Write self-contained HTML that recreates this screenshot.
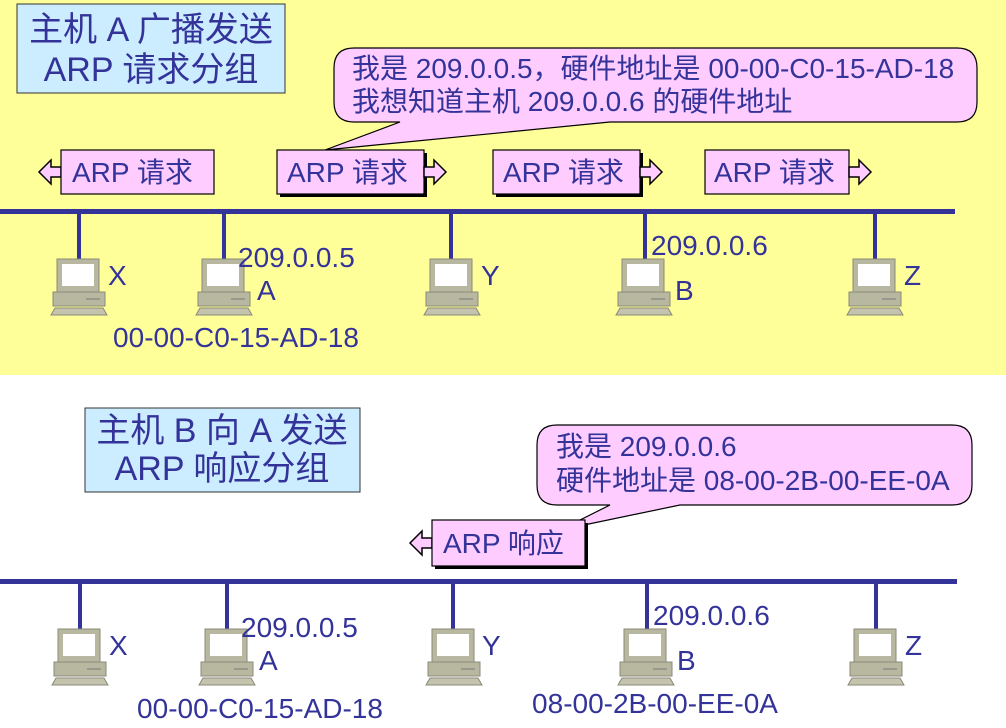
<!DOCTYPE html>
<html><head><meta charset="utf-8"><style>
html,body{margin:0;padding:0;background:#fff}
svg{display:block}
text{font-family:"Liberation Sans","Noto Sans CJK SC",sans-serif;fill:#333399}
</style></head><body>
<svg width="1006" height="728" viewBox="0 0 1006 728" xmlns="http://www.w3.org/2000/svg">
<defs>
<g id="pc">
<rect x="4" y="0" width="42" height="33" fill="#b8b8a0" stroke="#8a8a78" stroke-width="1"/>
<rect x="9" y="5" width="32" height="22" fill="#ffffff"/>
<rect x="0" y="33" width="52" height="14" fill="#b8b8a0" stroke="#8a8a78" stroke-width="1"/>
<line x1="33" y1="40" x2="47" y2="40" stroke="#777" stroke-width="1"/>
<polygon points="2,49 50,49 54,56 -2,56" fill="#c4c4ae" stroke="#8a8a78" stroke-width="1"/>
</g>
<g id="ra"><polygon points="0,-5 10,-5 10,-12 22,0 10,12 10,5 0,5" fill="#ffccff" stroke="#000" stroke-width="1.5"/></g>
<g id="la"><polygon points="0,-5 -10,-5 -10,-12 -22,0 -10,12 -10,5 0,5" fill="#ffccff" stroke="#000" stroke-width="1.5"/></g>
</defs>
<rect x="0" y="0" width="1006" height="375" fill="#ffff99"/>

<!-- top -->
<rect x="17" y="4" width="268" height="89" fill="#ccecff" stroke="#333" stroke-width="1"/>
<text x="151" y="41" font-size="34" text-anchor="middle">主机 A 广播发送</text>
<text x="151" y="81" font-size="34" text-anchor="middle">ARP 请求分组</text>

<path d="M354,48 H957 Q977,48 977,68 V102 Q977,122 957,122 H610 L325,150 L400,122 H354 Q334,122 334,102 V68 Q334,48 354,48 Z" fill="#ffccff" stroke="#000" stroke-width="1.2"/>
<text x="352" y="78" font-size="28">我是 209.0.0.5，硬件地址是 00-00-C0-15-AD-18</text>
<text x="352" y="111" font-size="28">我想知道主机 209.0.0.6 的硬件地址</text>

<use href="#la" x="61" y="172"/>
<rect x="61" y="150" width="153" height="44" fill="#ffccff" stroke="#000" stroke-width="1.2"/>
<text x="72" y="182" font-size="28">ARP 请求</text>

<rect x="280" y="153" width="147" height="44" fill="#000"/>
<rect x="277" y="150" width="147" height="44" fill="#ffccff" stroke="#000" stroke-width="1.2"/>
<text x="287" y="182" font-size="28">ARP 请求</text>
<use href="#ra" x="424" y="172"/>

<rect x="496" y="153" width="147" height="44" fill="#000"/>
<rect x="493" y="150" width="147" height="44" fill="#ffccff" stroke="#000" stroke-width="1.2"/>
<text x="503" y="182" font-size="28">ARP 请求</text>
<use href="#ra" x="640" y="172"/>

<rect x="705" y="150" width="144" height="44" fill="#ffccff" stroke="#000" stroke-width="1.2"/>
<text x="714" y="182" font-size="28">ARP 请求</text>
<use href="#ra" x="849" y="172"/>

<rect x="0" y="209" width="955" height="5" fill="#333399"/>
<g fill="#333399">
<rect x="77" y="211" width="4" height="50"/><rect x="222" y="211" width="4" height="50"/>
<rect x="449" y="211" width="4" height="50"/><rect x="643" y="211" width="4" height="50"/>
<rect x="873" y="211" width="4" height="50"/>
</g>
<use href="#pc" x="53" y="259"/><use href="#pc" x="198" y="259"/><use href="#pc" x="426" y="259"/>
<use href="#pc" x="618" y="259"/><use href="#pc" x="849" y="259"/>
<text x="108" y="285" font-size="28">X</text>
<text x="238" y="267" font-size="28">209.0.0.5</text>
<text x="257" y="300" font-size="28">A</text>
<text x="236" y="347" font-size="28" text-anchor="middle">00-00-C0-15-AD-18</text>
<text x="481" y="285" font-size="28">Y</text>
<text x="651" y="255" font-size="28">209.0.0.6</text>
<text x="675" y="300" font-size="28">B</text>
<text x="904" y="285" font-size="28">Z</text>

<!-- bottom -->
<rect x="85" y="408" width="275" height="84" fill="#ccecff" stroke="#333" stroke-width="1"/>
<text x="222" y="442" font-size="34" text-anchor="middle">主机 B 向 A 发送</text>
<text x="222" y="480" font-size="34" text-anchor="middle">ARP 响应分组</text>

<path d="M557,425 H952 Q972,425 972,445 V485 Q972,505 952,505 H680 L560,530 L610,505 H557 Q537,505 537,485 V445 Q537,425 557,425 Z" fill="#ffccff" stroke="#000" stroke-width="1.2"/>
<text x="556" y="456" font-size="28">我是 209.0.0.6</text>
<text x="556" y="490" font-size="28">硬件地址是 08-00-2B-00-EE-0A</text>

<use href="#la" x="432" y="543"/>
<rect x="435" y="523" width="153" height="46" fill="#000"/>
<rect x="432" y="520" width="153" height="46" fill="#ffccff" stroke="#000" stroke-width="1.2"/>
<text x="443" y="553" font-size="28">ARP 响应</text>

<rect x="0" y="579" width="957" height="5" fill="#333399"/>
<g fill="#333399">
<rect x="78" y="581" width="4" height="50"/><rect x="225" y="581" width="4" height="50"/>
<rect x="451" y="581" width="4" height="50"/><rect x="645" y="581" width="4" height="50"/>
<rect x="874" y="581" width="4" height="50"/>
</g>
<use href="#pc" x="54" y="629"/><use href="#pc" x="201" y="629"/><use href="#pc" x="428" y="629"/>
<use href="#pc" x="620" y="629"/><use href="#pc" x="850" y="629"/>
<text x="109" y="655" font-size="28">X</text>
<text x="241" y="637" font-size="28">209.0.0.5</text>
<text x="259" y="670" font-size="28">A</text>
<text x="260" y="718" font-size="28" text-anchor="middle">00-00-C0-15-AD-18</text>
<text x="482" y="655" font-size="28">Y</text>
<text x="653" y="625" font-size="28">209.0.0.6</text>
<text x="677" y="670" font-size="28">B</text>
<text x="655" y="713" font-size="28" text-anchor="middle">08-00-2B-00-EE-0A</text>
<text x="905" y="655" font-size="28">Z</text>
</svg>
</body></html>
